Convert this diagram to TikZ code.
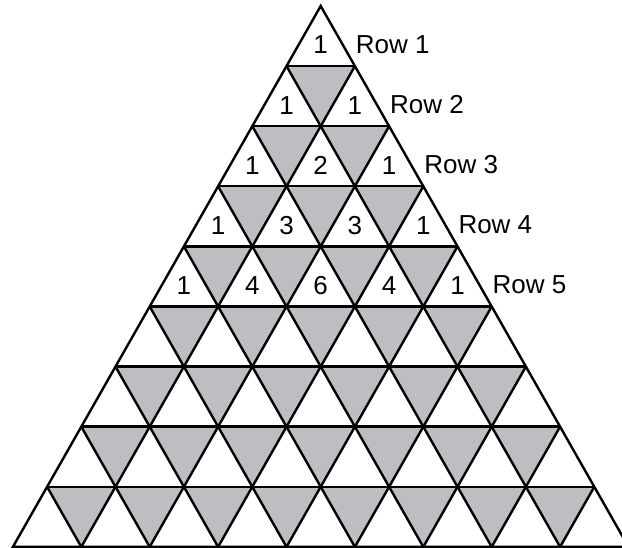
\documentclass[tikz,border=0pt]{standalone}
\usepackage{fontspec}
\setmainfont{Liberation Sans}
\definecolor{cellgray}{RGB}{189,190,193}
\tikzset{
  gridline/.style={line width=2.4pt, black, line join=miter},
  downcell/.style={fill=cellgray},
  entry/.style={inner sep=0pt, font=\fontsize{26}{31}\selectfont},
  rowlabel/.style={inner sep=0pt, anchor=west, font=\fontsize{26}{31}\selectfont}
}
\begin{document}
\begin{tikzpicture}[x=1pt,y=-1pt]
  \useasboundingbox (0,0) rectangle (622,548);
  \clip (0,0) rectangle (622,548);
  % lattice points p<r>-<j>: row boundary r (0 = apex, 9 = base), position j
  \foreach \r in {0,...,9} {
    \foreach \j in {0,...,\r} {
      \coordinate (p\r-\j) at ({320.7+(2*\j-\r)*34.2},{6+\r*60.1});
    }
  }
  % shaded downward cells
  \foreach \r in {2,...,9} {
    \pgfmathtruncatemacro\rp{\r-1}
    \foreach \j in {1,...,\rp} {
      \pgfmathtruncatemacro\jm{\j-1}
      \fill[downcell] (p\rp-\jm) -- (p\rp-\j) -- (p\r-\j) -- cycle;
    }
  }
  % horizontal lines
  \foreach \r in {1,...,8} {
    \draw[gridline] (p\r-0) -- (p\r-\r);
  }
  % lines parallel to the left side
  \foreach \j in {1,...,8} {
    \draw[gridline] (p\j-\j) -- (p9-\j);
  }
  % lines parallel to the right side
  \foreach \k in {1,...,8} {
    \pgfmathtruncatemacro\jj{9-\k}
    \draw[gridline] (p\k-0) -- (p9-\jj);
  }
  % outer triangle
  \draw[gridline] (p0-0) -- (p9-0) -- (p9-9) -- cycle;
  % Pascal entries in the upward cells of the first five rows
  \foreach \r/\j/\v in {0/0/1,
                        1/0/1, 1/1/1,
                        2/0/1, 2/1/2, 2/2/1,
                        3/0/1, 3/1/3, 3/2/3, 3/3/1,
                        4/0/1, 4/1/4, 4/2/6, 4/3/4, 4/4/1} {
    \node[entry] (n\r-\j) at ([yshift=-39pt]p\r-\j) {\v};
  }
  % row labels beside the right side
  \foreach \r in {0,...,4} {
    \pgfmathtruncatemacro\rn{\r+1}
    \node[rowlabel] (row\rn) at ([xshift=35pt,yshift=-38.5pt]p\r-\r) {Row \rn};
  }
\end{tikzpicture}
\end{document}
